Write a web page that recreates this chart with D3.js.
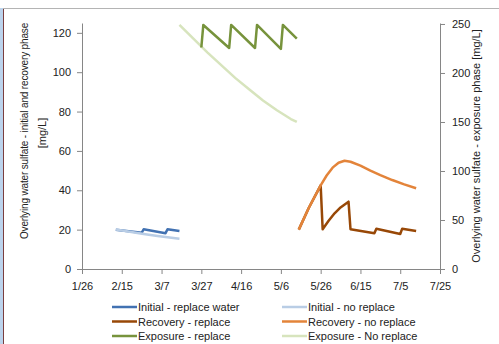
<!DOCTYPE html>
<html>
<head>
<meta charset="utf-8">
<script src="https://cdn.jsdelivr.net/npm/d3@7"></script>
<style>
  body { margin: 0; background: #fff; }
  svg { display: block; font-family: "Liberation Sans", Arial, sans-serif; }
  .axis path, .axis line { stroke: #868686; }
  .axis text { fill: #222; font-size: 11px; }
  .title { fill: #222; font-size: 11px; }
  .legend text { fill: #222; font-size: 11px; }
  .line { fill: none; stroke-width: 2.5; stroke-linejoin: round; }
</style>
</head>
<body>
<svg id="chart"></svg>
<script>
var W = 499, H = 344;
var margin = {top: 23, right: 59, bottom: 75, left: 82};

// tick labels on the date axis (every 20 days, 2011)
var xTicks = ["1/26", "2/15", "3/7", "3/27", "4/16", "5/6", "5/26", "6/15", "7/5", "7/25"];
var yLeftTicks = [0, 20, 40, 60, 80, 100, 120];
var yRightTicks = [0, 50, 100, 150, 200, 250];

// series: [date, value]
var initialReplace = [
  ["2/12", 20.0], ["2/25", 18.4], ["2/26", 20.2], ["3/9", 18.2], ["3/10", 20.2], ["3/16", 19.3]
];
var initialNoReplace = [
  ["2/12", 20.1], ["2/19", 18.9], ["2/26", 17.8], ["3/5", 16.8], ["3/12", 15.9], ["3/16", 15.4]
];
var recoveryReplace = [
  ["5/15", 20.0], ["5/20", 31.0], ["5/26", 42.5], ["5/27", 20.2], ["5/30", 24.5], ["6/2", 28.3],
  ["6/5", 31.3], ["6/9", 34.2], ["6/10", 20.2], ["6/22", 18.2], ["6/23", 20.5], ["7/5", 17.8],
  ["7/6", 20.5], ["7/13", 19.3]
];
var recoveryNoReplace = [
  ["5/15", 20.0], ["5/20", 31.0], ["5/26", 42.5], ["5/29", 47.5], ["6/1", 51.5], ["6/4", 54.0],
  ["6/7", 55.0], ["6/10", 54.5], ["6/15", 52.5], ["6/20", 50.0], ["6/25", 47.7], ["7/1", 45.2],
  ["7/7", 43.0], ["7/13", 41.0]
];
var exposureReplace = [
  ["3/27", 226], ["3/28", 249], ["4/10", 225.5], ["4/11", 249], ["4/23", 225.5], ["4/24", 249],
  ["5/6", 224.5], ["5/7", 249], ["5/14", 235]
];
var exposureNoReplace = [
  ["3/16", 249], ["3/23", 235], ["3/30", 221], ["4/6", 208], ["4/13", 195], ["4/20", 183.5],
  ["4/27", 172], ["5/4", 162], ["5/11", 153], ["5/14", 150]
];

var legendNames = [
  "Initial - replace water", "Initial - no replace",
  "Recovery - replace", "Recovery - no replace",
  "Exposure - replace", "Exposure - No replace"
];
var colors = ["#4272B2", "#B9CDE5", "#984807", "#E3843A", "#77933C", "#D7E4BD"];

function toDate(s){
  var p = s.split("/");
  return new Date(2011, +p[0] - 1, +p[1]);
}

var svg = d3.select("#chart").attr("width", W).attr("height", H);

// outer frame bits of the screenshot
svg.append("rect").attr("x", 0).attr("y", 8).attr("width", 3).attr("height", H - 8).style("fill", "#BCD3EC");
svg.append("line").attr("x1", 3.5).attr("x2", 3.5).attr("y1", 8).attr("y2", H).style("stroke", "#7A3E3E");
svg.append("line").attr("x1", 3).attr("x2", W).attr("y1", 8.5).attr("y2", 8.5).style("stroke", "#B4B4B4");

var width = W - margin.left - margin.right,
    height = H - margin.top - margin.bottom;

var x = d3.scaleTime()
  .domain([toDate("1/26"), toDate("7/25")])
  .range([0, width]);
var yL = d3.scaleLinear().domain([0, 125]).range([height, 0]);
var yR = d3.scaleLinear().domain([0, 251]).range([height, 0]);

var g = svg.append("g").attr("transform", "translate(" + margin.left + "," + margin.top + ")");

//Axes
g.append("g")
  .attr("class", "axis")
  .attr("transform", "translate(0," + height + ")")
  .call(d3.axisBottom(x).tickValues(xTicks.map(toDate)).tickSize(5).tickSizeOuter(0)
    .tickFormat(d3.timeFormat("%-m/%-d")))
  .selectAll("text").attr("dy", "1.05em").attr("y", 9);

g.append("g")
  .attr("class", "axis")
  .call(d3.axisLeft(yL).tickValues(yLeftTicks).tickSize(5).tickSizeOuter(0).tickPadding(6));

g.append("g")
  .attr("class", "axis")
  .attr("transform", "translate(" + width + ",0)")
  .call(d3.axisRight(yR).tickValues(yRightTicks).tickSize(5).tickSizeOuter(0).tickPadding(7));

//Axis titles
svg.append("text")
  .attr("class", "title")
  .style("font-size", "10px")
  .style("letter-spacing", "-0.15px")
  .attr("transform", "translate(28,131) rotate(-90)")
  .attr("text-anchor", "middle")
  .text("Overlying water sulfate - initial and recovery phase");
svg.append("text")
  .attr("class", "title")
  .attr("transform", "translate(46,133) rotate(-90)")
  .attr("text-anchor", "middle")
  .text("[mg/L]");
svg.append("text")
  .attr("class", "title")
  .attr("transform", "translate(480,146) rotate(-90)")
  .attr("text-anchor", "middle")
  .text("Overlying water sulfate - exposure phase [mg/L]");

//Lines
var lineL = d3.line().x(function(d){ return x(toDate(d[0])); }).y(function(d){ return yL(d[1]); });
var lineR = d3.line().x(function(d){ return x(toDate(d[0])); }).y(function(d){ return yR(d[1]); });

var series = [
  {data: initialReplace, line: lineL, color: colors[0]},
  {data: initialNoReplace, line: lineL, color: colors[1]},
  {data: recoveryReplace, line: lineL, color: colors[2]},
  {data: recoveryNoReplace, line: lineL, color: colors[3]},
  {data: exposureNoReplace, line: lineR, color: colors[5]},
  {data: exposureReplace, line: lineR, color: colors[4]}
];

series.forEach(function(s){
  g.append("path")
    .datum(s.data)
    .attr("class", "line")
    .style("stroke", s.color)
    .attr("d", s.line);
});

//Legend
var legend = svg.append("g").attr("class", "legend");
legendNames.forEach(function(name, i){
  var col = i % 2, row = Math.floor(i / 2);
  var lx = col === 0 ? 112 : 282, ly = 307 + row * 14.5;
  legend.append("line")
    .attr("x1", lx).attr("x2", lx + 25).attr("y1", ly).attr("y2", ly)
    .style("stroke", colors[i]).style("stroke-width", 2.5);
  legend.append("text")
    .attr("x", lx + 26).attr("y", ly + 4)
    .text(name);
});
</script>
</body>
</html>
